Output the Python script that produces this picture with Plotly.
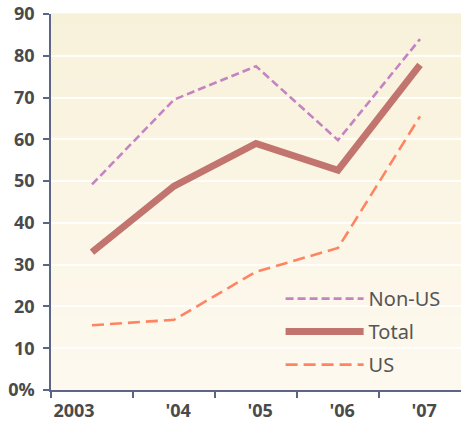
import plotly.graph_objects as go

years = ["2003", "'04", "'05", "'06", "'07"]
non_us = [49.2, 69.5, 77.5, 59.8, 84.0]
total = [33.0, 48.8, 59.0, 52.6, 77.8]
us = [15.5, 16.8, 28.3, 34.0, 65.5]
y_ticks = [0, 10, 20, 30, 40, 50, 60, 70, 80, 90]
y_labels = ["0%", "10", "20", "30", "40", "50", "60", "70", "80", "90"]

xpos = list(range(len(years)))
# label nudges (layout only): first label sits left of its point, others slightly right
label_pos = [x + (-0.22 if i == 0 else 0.05) for i, x in enumerate(xpos)]

fig = go.Figure()
fig.add_trace(go.Scatter(x=xpos, y=non_us, name="Non-US", mode="lines",
                         line=dict(color="#c484c4", width=2.6, dash="8px,4px"),
                         legendgroup="a"))
fig.add_trace(go.Scatter(x=xpos, y=total, name="Total", mode="lines",
                         line=dict(color="#c2756e", width=7),
                         legendgroup="b"))
fig.add_trace(go.Scatter(x=xpos, y=us, name="US", mode="lines",
                         line=dict(color="#ff8462", width=2.6, dash="12px,6px"),
                         legendgroup="c"))

# background gradient
n = 40
top = (248, 241, 218)
bot = (253, 249, 239)
shapes = []
for i in range(n):
    t = i / (n - 1)
    c = tuple(round(bot[k] + (top[k] - bot[k]) * t) for k in range(3))
    shapes.append(dict(type="rect", xref="paper", yref="paper",
                       x0=0, x1=1, y0=i / n, y1=(i + 1) / n + 0.002,
                       fillcolor="rgb(%d,%d,%d)" % c, line=dict(width=0),
                       layer="below"))

axis_color = "#5b6586"
tick_font = dict(family="Open Sans", size=18, color="#4a4a4a", weight="bold")
fig.update_layout(
    width=462, height=423,
    margin=dict(l=51, r=1, t=11, b=33),
    paper_bgcolor="white",
    plot_bgcolor="#fbf5e5",
    shapes=shapes,
    showlegend=True,
    legend=dict(x=0.56, y=0.295, xanchor="left", yanchor="top",
                bgcolor="rgba(0,0,0,0)", itemwidth=78,
                font=dict(family="Noto Sans", size=20, color="#555555"),
                tracegroupgap=4, traceorder="grouped"),
    xaxis=dict(range=[-0.5, 4.5], tickvals=label_pos, ticktext=years,
               ticks="", showgrid=False, zeroline=False,
               showline=True, linecolor=axis_color, linewidth=1.5,
               ticklabelstandoff=4,
               tickfont=tick_font,
               minor=dict(tickvals=[-0.5, 0.5, 1.5, 2.5, 3.5], ticks="outside",
                          ticklen=6, tickwidth=1.5, tickcolor=axis_color,
                          showgrid=False)),
    yaxis=dict(range=[0, 90], tickvals=y_ticks, ticktext=y_labels,
               ticks="outside", ticklen=6, tickwidth=1.5, tickcolor=axis_color,
               ticklabelstandoff=5, ticklabeloverflow="allow",
               showgrid=True, gridcolor="rgba(255,255,255,0.85)", gridwidth=1.5,
               zeroline=False, showline=True, linecolor=axis_color, linewidth=1.5,
               tickfont=tick_font),
)

fig.write_html("out.html", config={"displayModeBar": False},
               post_script="document.body.style.margin='0';")
